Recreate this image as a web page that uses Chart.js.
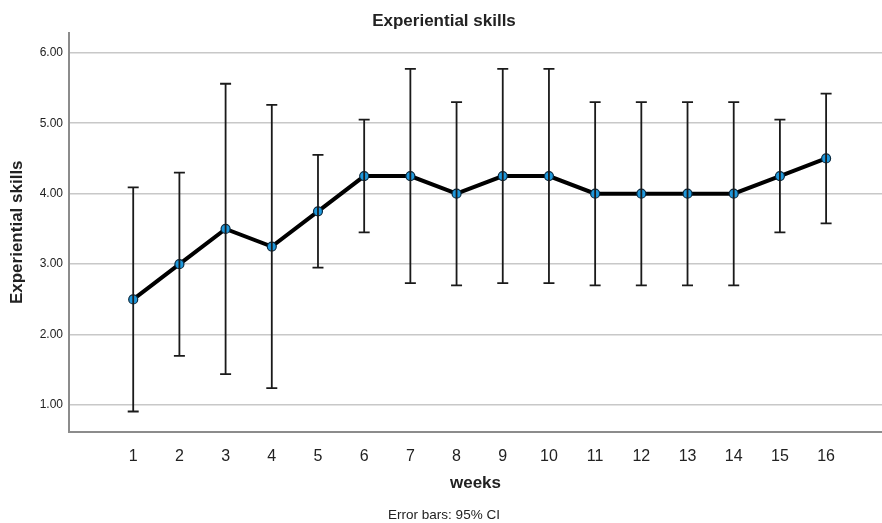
<!DOCTYPE html>
<html>
<head>
<meta charset="utf-8">
<script src="https://cdn.jsdelivr.net/npm/chart.js@4/dist/chart.umd.min.js"></script>
<style>
  html, body { margin: 0; padding: 0; background: #ffffff; }
  #wrap { width: 882px; height: 523px; }
</style>
</head>
<body>
<div id="wrap"><canvas id="chart" width="882" height="523"></canvas></div>
<script>
// Weekly mean scores with 95% confidence intervals
const weeks = [1, 2, 3, 4, 5, 6, 7, 8, 9, 10, 11, 12, 13, 14, 15, 16];
const means = [2.50, 3.00, 3.50, 3.25, 3.75, 4.25, 4.25, 4.00, 4.25, 4.25, 4.00, 4.00, 4.00, 4.00, 4.25, 4.50];
const ciUpper = [4.09, 4.30, 5.56, 5.26, 4.55, 5.05, 5.77, 5.30, 5.77, 5.77, 5.30, 5.30, 5.30, 5.30, 5.05, 5.42];
const ciLower = [0.91, 1.70, 1.44, 1.24, 2.95, 3.45, 2.73, 2.70, 2.73, 2.73, 2.70, 2.70, 2.70, 2.70, 3.45, 3.58];
const yTicks = [1, 2, 3, 4, 5, 6];

const FONT = "'Liberation Sans', Arial, Helvetica, sans-serif";
const TEXT = '#222222';

// Vertical error bars with end caps, drawn on top of the line
const errorBars = {
  id: 'errorBars',
  afterDatasetsDraw(chart) {
    const { ctx, scales: { x, y } } = chart;
    ctx.save();
    ctx.strokeStyle = '#1a1a1a';
    ctx.lineWidth = 1.8;
    const cap = 5.5;
    weeks.forEach((w, i) => {
      const px = x.getPixelForValue(w);
      const top = y.getPixelForValue(ciUpper[i]);
      const bot = y.getPixelForValue(ciLower[i]);
      ctx.beginPath();
      ctx.moveTo(px, top); ctx.lineTo(px, bot);
      ctx.moveTo(px - cap, top); ctx.lineTo(px + cap, top);
      ctx.moveTo(px - cap, bot); ctx.lineTo(px + cap, bot);
      ctx.stroke();
    });
    ctx.restore();
  }
};

new Chart(document.getElementById('chart'), {
  type: 'line',
  data: {
    datasets: [{
      label: 'Experiential skills',
      data: weeks.map((w, i) => ({ x: w, y: means[i] })),
      borderColor: '#000000',
      borderWidth: 4,
      pointRadius: 4.5,
      pointBorderWidth: 1.2,
      pointBackgroundColor: '#1e98dc',
      pointBorderColor: '#0a2a40',
      tension: 0,
      fill: false
    }]
  },
  options: {
    responsive: false,
    animation: false,
    layout: { autoPadding: false, padding: { top: 0, right: 0, bottom: 0, left: 6 } },
    plugins: {
      legend: { display: false },
      tooltip: { enabled: false },
      title: {
        display: true,
        text: 'Experiential skills',
        color: TEXT,
        font: { family: FONT, size: 17, weight: 'bold', lineHeight: 1.2 },
        padding: { top: 10.8, bottom: 1.8 }
      },
      subtitle: {
        display: true,
        position: 'bottom',
        text: 'Error bars: 95% CI',
        color: TEXT,
        font: { family: FONT, size: 13.5, weight: 'normal', lineHeight: 1 },
        padding: { top: 0, bottom: 1 }
      }
    },
    scales: {
      x: {
        type: 'linear',
        min: -0.39,
        max: 17.21,
        afterBuildTicks(scale) { scale.ticks = weeks.map(v => ({ value: v })); },
        afterFit(scale) {
          scale.height = 77;
          scale.paddingLeft = 0;
          scale.paddingRight = 0;
        },
        grid: { display: false },
        border: { display: true, color: '#8c8c8c', width: 2 },
        ticks: {
          padding: 7.4,
          color: TEXT,
          font: { family: FONT, size: 16 },
          callback: v => String(v),
          maxRotation: 0,
          autoSkip: false
        },
        title: {
          display: true,
          text: 'weeks',
          color: TEXT,
          font: { family: FONT, size: 17, weight: 'bold', lineHeight: 1.2 },
          padding: { top: 0, bottom: 15 }
        }
      },
      y: {
        min: 0.626,
        max: 6.28,
        afterBuildTicks(scale) { scale.ticks = yTicks.map(v => ({ value: v })); },
        afterFit(scale) {
          scale.width = 63;
          scale.paddingTop = 0;
          scale.paddingBottom = 0;
        },
        grid: { color: '#c8c8c8', lineWidth: 1.5, drawTicks: false },
        border: { display: true, color: '#8c8c8c', width: 2 },
        ticks: {
          padding: 6,
          color: TEXT,
          font: { family: FONT, size: 12 },
          callback: v => Number(v).toFixed(2)
        },
        title: {
          display: true,
          text: 'Experiential skills',
          color: TEXT,
          font: { family: FONT, size: 17, weight: 'bold', lineHeight: 1.2 },
          padding: { top: 1.5, bottom: 0 }
        }
      }
    }
  },
  plugins: [errorBars]
});
</script>
</body>
</html>
